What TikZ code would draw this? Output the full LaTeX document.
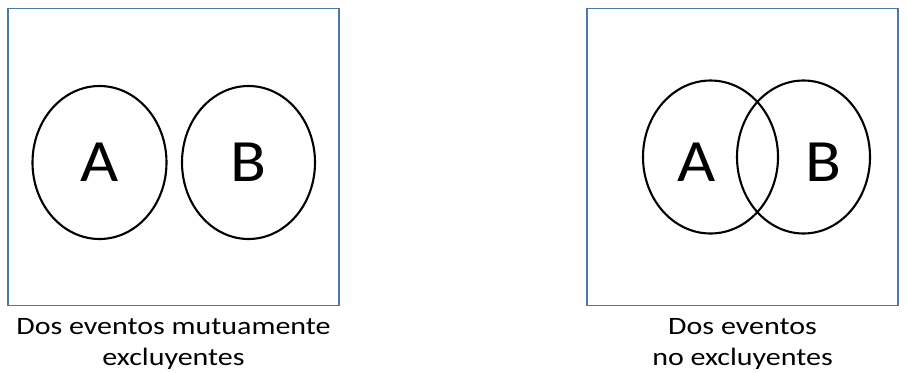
\documentclass[tikz,border=0pt]{standalone}
\usepackage{fontspec}
\setmainfont{Carlito}
\usetikzlibrary{positioning,shapes.geometric}
\definecolor{frame}{HTML}{4A78AC}

\begin{document}
\begin{tikzpicture}[x=1pt,y=-1pt,
    panel/.style={draw=frame, line width=1.4pt, inner sep=0pt},
    event/.style={ellipse, draw=black, line width=2.1pt, inner sep=0pt,
                  minimum width=134pt, minimum height=153pt},
    letter/.style={font=\fontsize{60}{62}\selectfont\addfontfeature{FakeStretch=1.1}, inner sep=0pt},
    caption/.style={font=\fontsize{25}{31}\selectfont\addfontfeature{FakeStretch=1.2},
                    align=center, inner sep=0pt}
  ]
    \useasboundingbox (0,0) rectangle (907,372);

    % Left: mutually exclusive events
    \node[panel, minimum width=331pt, minimum height=297pt] (boxL) at (173.5,157) {};
    \node[event] (aL) at (99.5,162.5) {};
    \node[event, minimum width=133pt] (bL) at (248.5,162.5) {};
    \node[letter] at (aL.center) {A};
    \node[letter] at (bL.center) {B};
    \node[caption, below=12pt of boxL] (capL) {Dos eventos mutuamente\\excluyentes};

    % Right: non-exclusive events
    \node[panel, minimum width=311pt, minimum height=297pt] (boxR) at (742.5,157) {};
    \node[event, minimum width=135pt] (aR) at (710.5,157) {};
    \node[event, minimum width=133pt] (bR) at (803.5,157) {};
    \node[letter] at (697,162) {A};
    \node[letter] at (823,162) {B};
    \node[caption, below=12pt of boxR] (capR) {Dos eventos\\no excluyentes};
  \end{tikzpicture}
\end{document}
